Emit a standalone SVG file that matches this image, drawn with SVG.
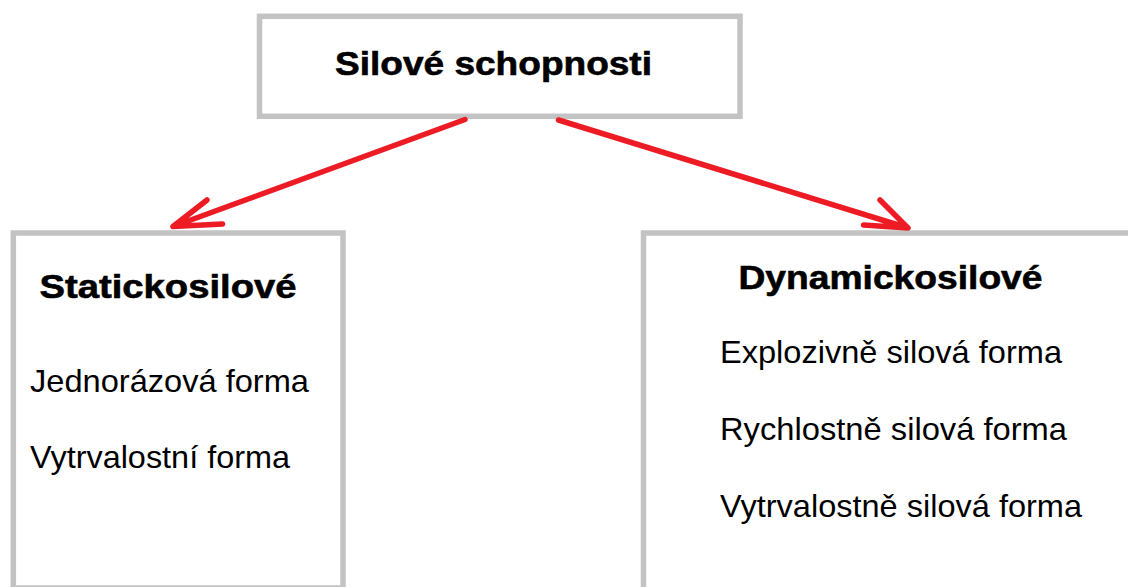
<svg xmlns="http://www.w3.org/2000/svg" width="1128" height="587" viewBox="0 0 1128 587">
  <defs>
    <style>
      .box { fill: #ffffff; stroke: #c3c3c3; stroke-width: 5.5; }
      .head { font-family: "Liberation Sans", Arial, sans-serif; font-weight: bold; font-size: 33px; fill: #000000; stroke: #000000; stroke-width: 0.6; }
      .item { font-family: "Liberation Sans", Arial, sans-serif; font-size: 30.5px; fill: #000000; }
      .arrow { fill: none; stroke: #ed1c24; stroke-width: 5.5; stroke-linecap: round; stroke-linejoin: round; }
    </style>
  </defs>
  <rect width="1128" height="587" fill="#ffffff"/>

  <g id="node-silove-schopnosti">
    <rect class="box" x="259.5" y="16.3" width="480.5" height="100"/>
    <text class="head" x="335" y="75" textLength="317" lengthAdjust="spacingAndGlyphs">Silové schopnosti</text>
  </g>

  <g id="node-statickosilove">
    <rect class="box" x="13.3" y="233" width="329.7" height="355"/>
    <text class="head" x="39.5" y="298.3" textLength="257" lengthAdjust="spacingAndGlyphs">Statickosilové</text>
    <text class="item" x="30" y="391.7" textLength="279" lengthAdjust="spacingAndGlyphs">Jednorázová forma</text>
    <text class="item" x="30" y="468.3" textLength="260" lengthAdjust="spacingAndGlyphs">Vytrvalostní forma</text>
  </g>

  <g id="node-dynamickosilove">
    <rect class="box" x="643.5" y="233" width="500" height="370"/>
    <text class="head" x="738.5" y="289" textLength="304" lengthAdjust="spacingAndGlyphs">Dynamickosilové</text>
    <text class="item" x="720" y="363.3" textLength="342" lengthAdjust="spacingAndGlyphs">Explozivně silová forma</text>
    <text class="item" x="720" y="440" textLength="347" lengthAdjust="spacingAndGlyphs">Rychlostně silová forma</text>
    <text class="item" x="720" y="516.7" textLength="362" lengthAdjust="spacingAndGlyphs">Vytrvalostně silová forma</text>
  </g>

  <g id="connectors">
    <path class="arrow" d="M465 119.5 L173 226.5 M207 200 L173 226.5 L222.5 224"/>
    <path class="arrow" d="M558.5 120 L908 228 M880 200 L908 228 L863.5 225"/>
  </g>
</svg>
